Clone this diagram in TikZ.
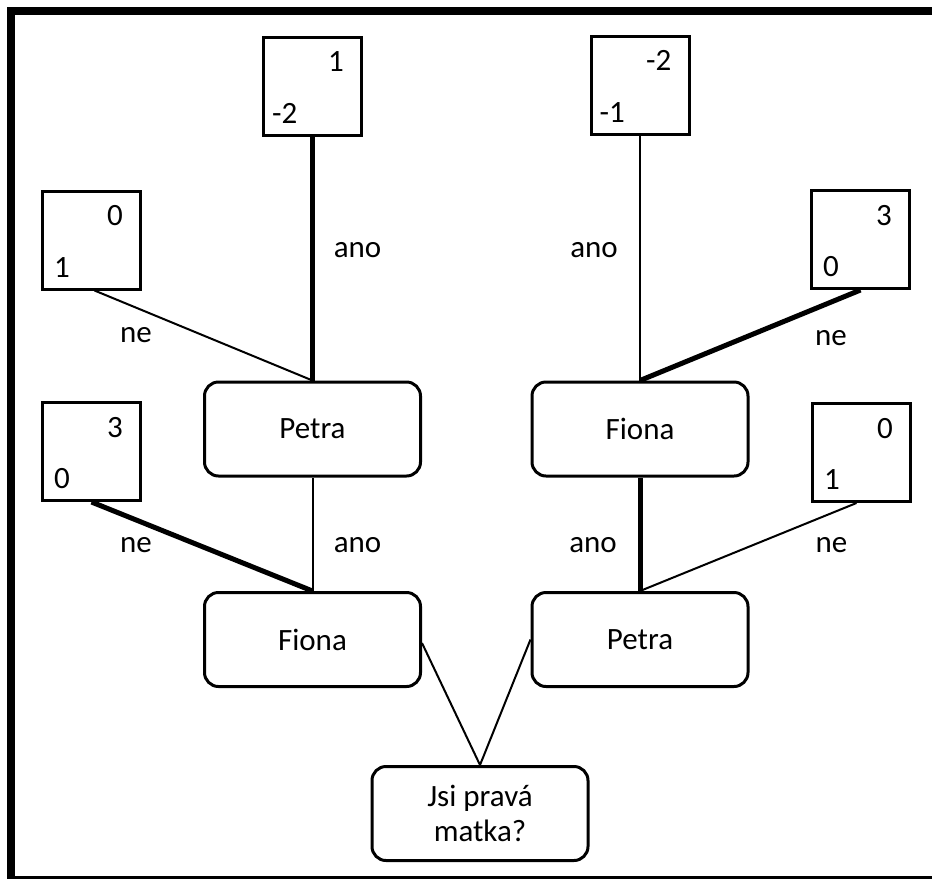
\documentclass[tikz,border=0pt]{standalone}
\usepackage{fontspec}
\setmainfont{Carlito}
\usetikzlibrary{calc}
\begin{document}
\begin{tikzpicture}[x=1pt,y=-1pt,
  every node/.style={font=\fontsize{31}{35}\selectfont},
  payoff/.style={draw, line width=3pt, minimum width=98pt, minimum height=98pt, inner sep=0pt},
  player/.style={draw, line width=3pt, rounded corners=14pt, minimum width=216pt, minimum height=94pt, inner sep=0pt, align=center},
  txt/.style={inner sep=0pt},
  thinedge/.style={line width=2pt},
  thickedge/.style={line width=5pt},
  frameline/.style={line width=8pt, line join=miter}]
\useasboundingbox (0,0) rectangle (932,879);
\fill[white] (0,0) rectangle (932,879);
\draw[frameline] (932,11) -- (11,11) -- (11,879);
\draw[line width=3pt] (11,877.5) -- (932,877.5);

% decision nodes
\node[player] (pu) at (312.5,429) {Petra};
\node[player] (fu) at (640,429) {Fiona};
\node[player] (fl) at (312.5,639.5) {Fiona};
\node[player] (pl) at (640,639.5) {Petra};
\node[player] (root) at (480,813.5) {Jsi pravá\\matka?};

% payoff boxes
\node[payoff] (a) at (312.5,86) {};
\node[payoff] (b) at (640,85) {};
\node[payoff] (c) at (91.5,240) {};
\node[payoff] (d) at (860.5,239.5) {};
\node[payoff] (e) at (91.5,451.5) {};
\node[payoff] (f) at (861.5,452.5) {};

% payoff numbers
\node[txt, anchor=base east] (a1) at ($(a.north west)+(82,36)$) {1};
\node[txt, anchor=base west] (a2) at ($(a.north west)+(10,87.5)$) {-2};
\node[txt, anchor=base east] (b1) at ($(b.north west)+(82,36)$) {-2};
\node[txt, anchor=base west] (b2) at ($(b.north west)+(10,87.5)$) {-1};
\node[txt, anchor=base east] (c1) at ($(c.north west)+(82,36)$) {0};
\node[txt, anchor=base west] (c2) at ($(c.north west)+(13,87.5)$) {1};
\node[txt, anchor=base east] (d1) at ($(d.north west)+(82,36)$) {3};
\node[txt, anchor=base west] (d2) at ($(d.north west)+(13,87.5)$) {0};
\node[txt, anchor=base east] (e1) at ($(e.north west)+(82,36)$) {3};
\node[txt, anchor=base west] (e2) at ($(e.north west)+(13,87.5)$) {0};
\node[txt, anchor=base east] (f1) at ($(f.north west)+(82,36)$) {0};
\node[txt, anchor=base west] (f2) at ($(f.north west)+(13,87.5)$) {1};

% edges
\draw[thickedge] (pu.north) -- (a.south);
\draw[thinedge] (pu.north) -- ([xshift=3pt]c.south);
\draw[thinedge] (fu.north) -- (b.south);
\draw[thickedge] (fu.north) -- (d.south);
\draw[thinedge] (fl.north) -- (pu.south);
\draw[thickedge] (fl.north) -- (e.south);
\draw[thickedge] (pl.north) -- (fu.south);
\draw[thinedge] (pl.north) -- ([xshift=-5pt]f.south);
\draw[thinedge] (root.north) -- ([yshift=-3.5pt]fl.east);
\draw[thinedge] (root.north) -- (pl.west);

% edge labels
\node[txt] (l1) at (357.5,250) {ano};
\node[txt] (l2) at (136,335) {ne};
\node[txt] (l3) at (594,250) {ano};
\node[txt] (l4) at (831,338) {ne};
\node[txt] (l5) at (357.5,545.5) {ano};
\node[txt] (l6) at (136,545) {ne};
\node[txt] (l7) at (593,545.5) {ano};
\node[txt] (l8) at (831.5,545) {ne};
\end{tikzpicture}
\end{document}
